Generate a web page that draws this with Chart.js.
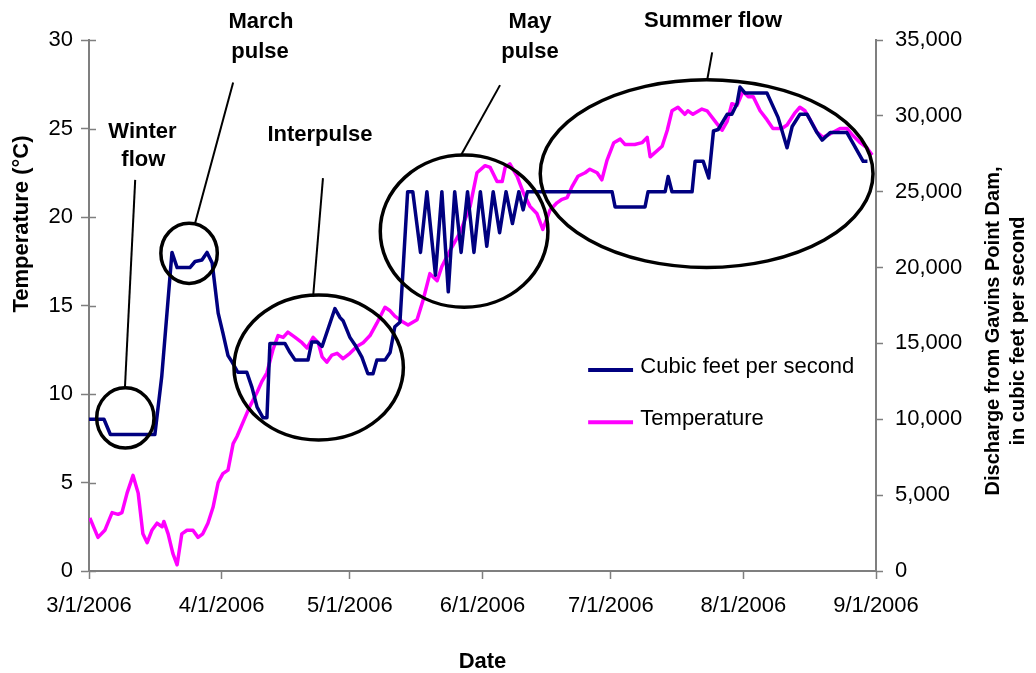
<!DOCTYPE html>
<html>
<head>
<meta charset="utf-8">
<title>Gavins Point Dam discharge and temperature, 2006</title>
<script src="https://cdn.jsdelivr.net/npm/chart.js@4.4.1/dist/chart.umd.min.js"></script>
<style>
  html, body { margin: 0; padding: 0; background: #ffffff; }
  canvas { display: block; }
</style>
</head>
<body>
<canvas id="chart" width="1036" height="673"></canvas>
<script>
// Days counted from 3/1/2006; month boundaries used as the x-axis ticks.
const monthTickDays = [0, 31, 61, 92, 122, 153, 184];
const monthTickLabels = ['3/1/2006', '4/1/2006', '5/1/2006', '6/1/2006', '7/1/2006', '8/1/2006', '9/1/2006'];

const tempTicks = [0, 5, 10, 15, 20, 25, 30];
const flowTicks = [0, 5000, 10000, 15000, 20000, 25000, 30000, 35000];

// Discharge from Gavins Point Dam (cubic feet per second)
const flowDays = [
  0, 3.5, 5, 15.4, 17, 19.4, 20.6, 23.6, 24.8, 26.4, 27.6, 28.8, 30.2, 31.3, 32.5, 33.4,
  34.8, 36.9, 38.1, 39.3, 40.7, 41.6, 42.3, 45.8, 47.0, 48.2, 51.2, 52.1, 53.3, 54.5,
  57.5, 58.7, 59.4, 61.0, 62.2, 63.8, 65.2, 66.4, 67.3, 69.2, 70.4, 71.5, 72.7, 74.5,
  75.7, 77.5, 79, 81, 82.5, 84, 85.5, 87, 88.5, 90, 91.5, 93, 94.5, 96, 97.5, 99, 100.5,
  101.5, 102.5, 122.3, 123.0, 130.0, 130.7, 134.7, 135.4, 136.3, 141.0, 141.7, 143.6,
  144.9, 146.0, 147.1, 149.2, 150.3, 151.5, 152.2, 153.4, 158.5, 161.1, 163.2, 164.4,
  166.2, 167.9, 170.2, 171.4, 173.3, 177.2, 178.6, 181.0, 182.0
];
const flowCfs = [
  10000, 10000, 9000, 9000, 12800, 21000, 20000, 20000, 20400, 20500, 21000, 20300, 17000, 15700, 14200, 13800,
  13100, 13100, 12100, 10800, 10100, 10100, 15000, 15000, 14400, 13900, 13900, 15100, 15100, 14800,
  17300, 16700, 16500, 15400, 14900, 14100, 13000, 13000, 13900, 13900, 14400, 16100, 16400, 25000,
  25000, 21000, 25000, 19500, 25000, 18400, 25000, 21000, 25000, 21000, 25000, 21400, 25000, 22300, 25000, 22900, 25000,
  23800, 25000, 25000, 24000, 24000, 25000, 25000, 26000, 25000, 25000, 27000, 27000,
  25900, 29000, 29100, 30100, 30100, 30800, 31900, 31500, 31500, 29900, 27900, 29300,
  30100, 30100, 28900, 28400, 28900, 28900, 28200, 27000, 27000
];

// Water temperature (degrees Celsius)
const tempDays = [
  0.2, 2.1, 3.7, 5.4, 6.8, 7.7, 8.9, 10.3, 11.5, 12.6, 13.6, 14.7, 15.9, 17.1, 17.5, 18.5,
  19.6, 20.6, 21.7, 22.9, 24.3, 25.5, 26.6, 27.8, 29.0, 30.2, 31.3, 32.5, 33.7, 34.6, 36.0,
  37.6, 39.3, 40.4, 41.6, 43.0, 44.2, 45.4, 46.5, 48.2, 49.8, 51.0, 52.4, 53.6, 54.5, 55.6,
  56.8, 58.0, 59.4, 61.0, 62.7, 64.1, 65.7, 67.3, 69.2, 70.4, 71.5, 73.2, 74.6, 76.7, 78.1,
  79.7, 81.4, 82.5, 84.4, 86.7, 89.1, 90.7, 92.6, 93.8, 95.4, 96.6, 97.3, 98.4, 100.1, 101.5,
  103.1, 104.7, 106.1, 107.8, 109.4, 110.6, 111.8, 112.9, 114.3, 116.0, 117.1, 118.8, 119.9,
  121.1, 122.7, 124.2, 125.3, 127.6, 129.3, 130.5, 131.2, 134.0, 135.2, 136.3, 137.7, 139.3,
  140.0, 141.2, 143.3, 144.5, 146.4, 148.0, 149.2, 150.3, 151.5, 152.9, 154.1, 155.3, 156.9,
  158.5, 159.9, 162.0, 163.2, 165.1, 166.2, 167.4, 168.6, 170.2, 171.6, 173.3, 175.6, 177.2,
  178.6, 180.3, 181.9, 183.1
];
const tempC = [
  3.0, 1.9, 2.3, 3.3, 3.2, 3.3, 4.4, 5.4, 4.4, 2.1, 1.6, 2.3, 2.7, 2.5, 2.8, 2.1,
  1.0, 0.35, 2.1, 2.3, 2.3, 1.9, 2.1, 2.7, 3.6, 5.0, 5.5, 5.7, 7.2, 7.6, 8.4,
  9.3, 10.1, 10.7, 11.2, 12.5, 13.3, 13.2, 13.5, 13.2, 12.9, 12.6, 13.2, 12.9, 12.1, 11.8,
  12.2, 12.3, 12.0, 12.3, 12.7, 12.9, 13.3, 14.0, 14.9, 14.7, 14.4, 14.1, 13.9, 14.2, 15.3,
  16.8, 16.4, 17.2, 18.1, 19.1, 20.6, 22.5, 22.9, 22.8, 22.0, 22.0, 22.8, 23.0, 22.3, 21.4,
  20.6, 20.2, 19.3, 20.4, 20.8, 21.0, 21.1, 21.7, 22.3, 22.5, 22.7, 22.5, 22.1,
  23.2, 24.2, 24.4, 24.1, 24.1, 24.2, 24.5, 23.4, 24.0, 24.9, 26.0, 26.2, 25.8,
  26.0, 25.8, 26.1, 26.0, 25.4, 24.9, 25.4, 26.4, 26.3, 27.1, 26.8, 26.8, 26.0,
  25.5, 25.0, 25.0, 25.2, 25.9, 26.2, 26.0, 25.5, 24.8, 24.5, 24.7, 25.0, 25.0,
  24.6, 24.2, 23.9, 23.5
];

const seriesNames = ['Cubic feet per second', 'Temperature'];
const seriesColors = ['#000080', '#FF00FF'];

const FAMILY = '"Liberation Sans", Arial, Helvetica, sans-serif';
const TEXT_SIZE = 22;
const RIGHT_TITLE_SIZE = 20;
const AXIS_GREY = '#7f7f7f';

// Callout rings, leader lines and captions, placed in axis units (day, degrees C).
const rings = [
  { day: 8.5,   temp: 8.65,  rDay: 6.7,  rTemp: 1.7 },
  { day: 23.4,  temp: 17.95, rDay: 6.6,  rTemp: 1.7 },
  { day: 53.7,  temp: 11.5,  rDay: 19.8, rTemp: 4.1 },
  { day: 87.7,  temp: 19.2,  rDay: 19.6, rTemp: 4.3 },
  { day: 144.4, temp: 22.45, rDay: 38.9, rTemp: 5.3 }
];
const leaders = [
  [[10.8, 22.1], [8.4, 10.35]],
  [[33.7, 27.6], [24.8, 19.65]],
  [[54.7, 22.2], [52.4, 15.5]],
  [[96.1, 27.45], [87.0, 23.5]],
  [[145.7, 29.3], [144.5, 27.7]]
];
const captions = [
  { text: 'Winter', day: 12.5, temp: 24.8 },
  { text: 'flow', day: 12.7, temp: 23.25 },
  { text: 'Interpulse', day: 54.0, temp: 24.65 },
  { text: 'March', day: 40.2, temp: 31.0 },
  { text: 'pulse', day: 40.0, temp: 29.35 },
  { text: 'May', day: 103.1, temp: 31.0 },
  { text: 'pulse', day: 103.1, temp: 29.35 },
  { text: 'Summer flow', day: 145.9, temp: 31.1 }
];
// Legend rows: swatch start/end and text start in days, row level in degrees C.
const legendRows = [
  { dataset: 0, temp: 11.35 },
  { dataset: 1, temp: 8.4 }
];
const legendSwatch = { from: 116.7, to: 127.2, text: 128.9 };

const decorPlugin = {
  id: 'decor',
  afterDatasetsDraw(chart) {
    const { ctx } = chart;
    const x = chart.scales.x, y = chart.scales.y;
    ctx.save();
    ctx.strokeStyle = '#000000';
    ctx.lineCap = 'butt';

    ctx.lineWidth = 2;
    leaders.forEach(([a, b]) => {
      ctx.beginPath();
      ctx.moveTo(x.getPixelForValue(a[0]), y.getPixelForValue(a[1]));
      ctx.lineTo(x.getPixelForValue(b[0]), y.getPixelForValue(b[1]));
      ctx.stroke();
    });

    ctx.lineWidth = 3.5;
    rings.forEach(r => {
      const cx = x.getPixelForValue(r.day), cy = y.getPixelForValue(r.temp);
      const rx = x.getPixelForValue(r.day + r.rDay) - cx;
      const ry = cy - y.getPixelForValue(r.temp + r.rTemp);
      ctx.beginPath();
      ctx.ellipse(cx, cy, rx, ry, 0, 0, Math.PI * 2);
      ctx.stroke();
    });

    ctx.fillStyle = '#000000';
    ctx.font = 'bold ' + TEXT_SIZE + 'px ' + FAMILY;
    ctx.textAlign = 'center';
    ctx.textBaseline = 'middle';
    captions.forEach(c => {
      ctx.fillText(c.text, x.getPixelForValue(c.day), y.getPixelForValue(c.temp));
    });

    // legend inside the plot
    ctx.font = TEXT_SIZE + 'px ' + FAMILY;
    ctx.textAlign = 'left';
    ctx.lineWidth = 4;
    legendRows.forEach(row => {
      const ds = chart.data.datasets[row.dataset];
      const py = y.getPixelForValue(row.temp);
      ctx.strokeStyle = ds.borderColor;
      ctx.beginPath();
      ctx.moveTo(x.getPixelForValue(legendSwatch.from), py);
      ctx.lineTo(x.getPixelForValue(legendSwatch.to), py);
      ctx.stroke();
      ctx.fillText(ds.label, x.getPixelForValue(legendSwatch.text), py - 3);
    });
    ctx.restore();
  },
  afterDraw(chart) {
    const { ctx } = chart;
    const y = chart.scales.y, y1 = chart.scales.y1;
    ctx.save();
    // inner half of the crossing tick marks on the temperature axis
    ctx.strokeStyle = AXIS_GREY;
    ctx.lineWidth = 1.5;
    y.ticks.forEach(t => {
      const py = Math.round(y.getPixelForValue(t.value)) + 0.5;
      ctx.beginPath();
      ctx.moveTo(y.right, py);
      ctx.lineTo(y.right + 7, py);
      ctx.stroke();
    });

    // vertical axis titles, both reading bottom to top
    ctx.fillStyle = '#000000';
    ctx.textAlign = 'center';
    ctx.textBaseline = 'middle';
    const drawUp = (text, px, py) => {
      ctx.save();
      ctx.translate(px, py);
      ctx.rotate(-Math.PI / 2);
      ctx.fillText(text, 0, 0);
      ctx.restore();
    };
    ctx.font = 'bold ' + TEXT_SIZE + 'px ' + FAMILY;
    drawUp('Temperature (\u00B0C)', y.left + 22, 224);
    ctx.font = 'bold ' + RIGHT_TITLE_SIZE + 'px ' + FAMILY;
    drawUp('Discharge from Gavins Point Dam,', y1.left + 117, 331);
    drawUp('in cubic feet per second', y1.left + 142, 331);
    ctx.restore();
  }
};

const tickFont = { family: FAMILY, size: TEXT_SIZE };

new Chart(document.getElementById('chart'), {
  type: 'line',
  data: {
    datasets: [
      {
        label: seriesNames[0],
        data: flowDays.map((d, i) => ({ x: d, y: flowCfs[i] })),
        yAxisID: 'y1',
        borderColor: seriesColors[0],
        backgroundColor: seriesColors[0],
        borderWidth: 3.5,
        pointRadius: 0,
        tension: 0,
        borderJoinStyle: 'round'
      },
      {
        label: seriesNames[1],
        data: tempDays.map((d, i) => ({ x: d, y: tempC[i] })),
        yAxisID: 'y',
        borderColor: seriesColors[1],
        backgroundColor: seriesColors[1],
        borderWidth: 3.5,
        pointRadius: 0,
        tension: 0,
        borderJoinStyle: 'round'
      }
    ]
  },
  options: {
    responsive: false,
    animation: false,
    devicePixelRatio: 1,
    layout: { padding: { top: 40, left: 0, right: 0, bottom: 0 } },
    plugins: { legend: { display: false }, tooltip: { enabled: false } },
    scales: {
      x: {
        type: 'linear',
        min: monthTickDays[0],
        max: monthTickDays[monthTickDays.length - 1],
        afterBuildTicks: s => { s.ticks = monthTickDays.map(v => ({ value: v })); },
        afterFit: s => { s.height = 102; },
        ticks: {
          autoSkip: false, maxRotation: 0, minRotation: 0,
          color: '#000000', font: tickFont, padding: 14,
          callback: (v, i) => monthTickLabels[i]
        },
        grid: { drawOnChartArea: false, drawTicks: true, tickLength: 8, color: AXIS_GREY, tickWidth: 1.5 },
        border: { display: true, color: AXIS_GREY, width: 2 },
        title: {
          display: true, text: 'Date', color: '#000000',
          font: { family: FAMILY, size: TEXT_SIZE, weight: 'bold', lineHeight: 1 },
          padding: { top: 0, bottom: 0 }
        }
      },
      y: {
        position: 'left',
        min: tempTicks[0], max: tempTicks[tempTicks.length - 1],
        afterBuildTicks: s => { s.ticks = tempTicks.map(v => ({ value: v })); },
        afterFit: s => { s.width = 89; },
        ticks: { color: '#000000', font: tickFont, padding: 8 },
        grid: { drawOnChartArea: false, drawTicks: true, tickLength: 8, color: AXIS_GREY, tickWidth: 1.5 },
        border: { display: true, color: AXIS_GREY, width: 2 }
      },
      y1: {
        position: 'right',
        min: flowTicks[0], max: flowTicks[flowTicks.length - 1],
        afterBuildTicks: s => { s.ticks = flowTicks.map(v => ({ value: v })); },
        afterFit: s => { s.width = 160; },
        ticks: {
          color: '#000000', font: tickFont, padding: 12,
          callback: v => v.toLocaleString('en-US')
        },
        grid: { drawOnChartArea: false, drawTicks: true, tickLength: 7, color: AXIS_GREY, tickWidth: 1.5 },
        border: { display: true, color: AXIS_GREY, width: 2 }
      }
    }
  },
  plugins: [decorPlugin]
});
</script>
</body>
</html>
